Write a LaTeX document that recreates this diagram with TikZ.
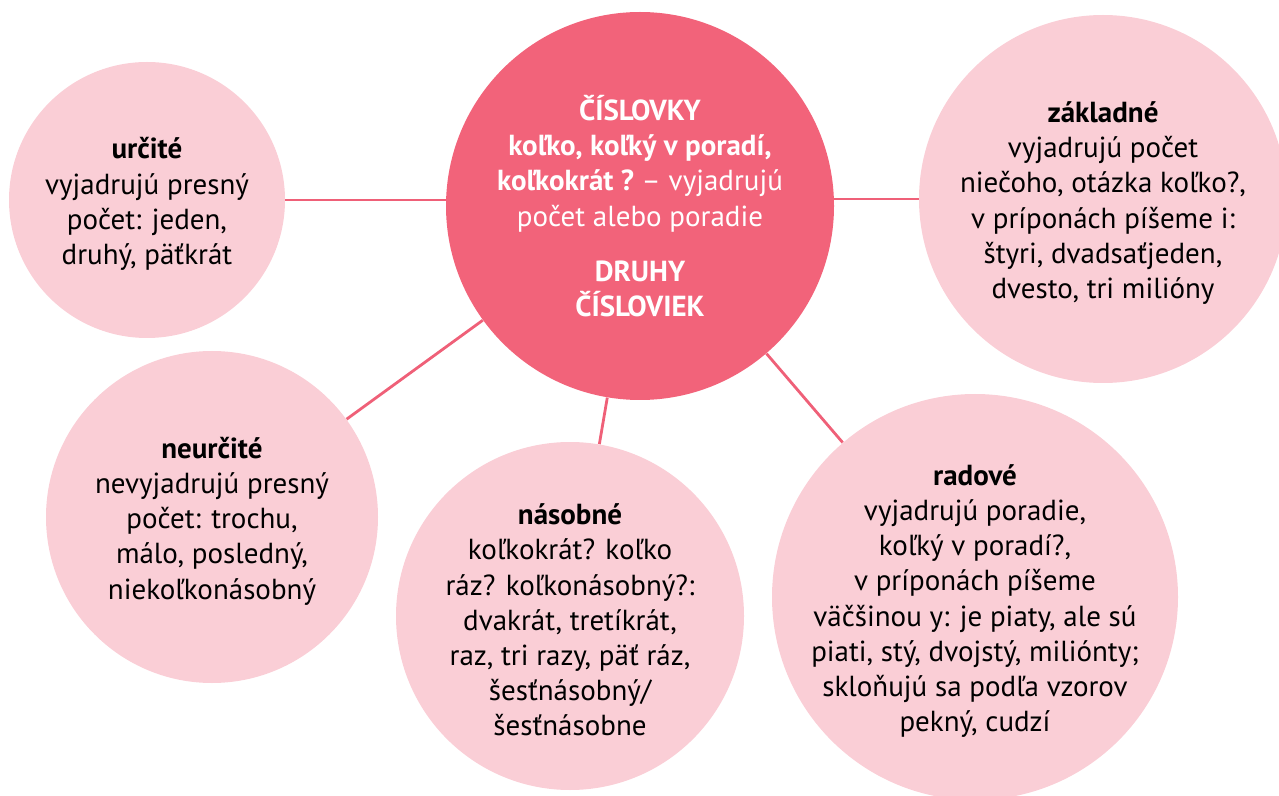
\documentclass[tikz,border=0pt]{standalone}
\usepackage{fontspec}
\setmainfont{PT Sans}
\usetikzlibrary{positioning,backgrounds}
\definecolor{rosedark}{RGB}{242,99,122}
\definecolor{roselight}{RGB}{250,206,214}
\definecolor{roseline}{RGB}{239,96,120}
\tikzset{
     bubble/.style={fill=#1, circle, inner sep=0pt},
     bubbleA/.style={bubble=rosedark},
     bubbleB/.style={bubble=roselight},
     txt/.style={align=center, font=\fontsize{14.5}{17.6}\selectfont},
     txtB/.style={txt, yshift=-2pt},
     link/.style={draw=roseline, line width=1.4pt},
}
\def\ux{0.5pt}
\def\uy{-0.5pt}

\begin{document}
\begin{tikzpicture}[x=\ux,y=\uy]
		\useasboundingbox (0,0) rectangle (1279,796);
		\clip (0,0) rectangle (1279,796);

		% kruhy
		\node[bubbleA, minimum size=388*\ux] (cis) at (640,206) {};
		\node[bubbleB, minimum size=276*\ux] (urc) at (147,200) {};
		\node[bubbleB, minimum size=368*\ux] (zak) at (1103,199) {};
		\node[bubbleB, minimum size=332*\ux] (neu) at (212,517) {};
		\node[bubbleB, minimum size=348*\ux] (nas) at (570,616) {};
		\node[bubbleB, minimum size=406*\ux] (rad) at (975,597) {};

		% spojnice
		\draw[link] (urc.east) -- (urc.east -| cis.west);
		\draw[link] (zak.west) -- (zak.west -| cis.east);
		\draw[link] (neu) -- (cis);
		\draw[link] (nas) -- (cis);
		\draw[link] (rad) -- (cis);

		% texty
		\node[txt, text=white] (cis-t) at (cis) {\textbf{ČÍSLOVKY}\\
			\textbf{koľko, koľký v poradí,}\\
			\textbf{koľkokrát ?}~– vyjadrujú\\
			počet alebo poradie\\[10pt]
			\textbf{DRUHY}\\
			\textbf{ČÍSLOVIEK}};
		\node[txtB] (urc-t) at (urc) {\textbf{určité}\\ vyjadrujú presný\\ počet: jeden,\\ druhý, päťkrát};
		\node[txtB] (zak-t) at (zak) {\textbf{základné}\\ vyjadrujú počet\\ niečoho, otázka koľko?,\\
			v príponách píšeme i:\\ štyri, dvadsaťjeden,\\ dvesto, tri milióny};
		\node[txtB] (neu-t) at (neu) {\textbf{neurčité}\\ nevyjadrujú presný\\ počet: trochu,\\
			málo, posledný,\\ niekoľkonásobný};
		\node[txtB] (nas-t) at (nas) {\textbf{násobné}\\ koľkokrát? koľko\\ ráz? koľkonásobný?:\\
			dvakrát, tretíkrát,\\ raz, tri razy, päť ráz,\\ šesťnásobný/\\ šesťnásobne};
		\node[txtB] (rad-t) at (rad) {\textbf{radové}\\ vyjadrujú poradie,\\ koľký v poradí?,\\
			v príponách píšeme\\ väčšinou y: je piaty, ale sú\\ piati, stý, dvojstý, miliónty;\\
			skloňujú sa podľa vzorov\\ pekný, cudzí};
\end{tikzpicture}
\end{document}
